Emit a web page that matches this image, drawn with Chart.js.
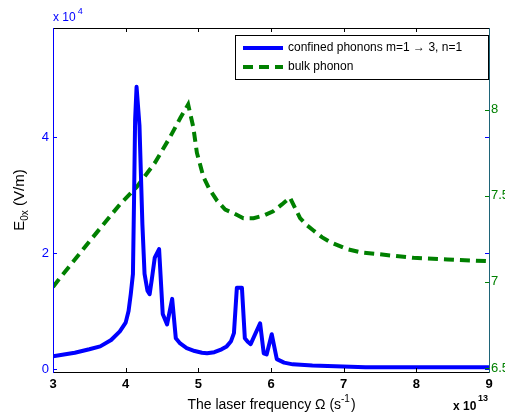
<!DOCTYPE html>
<html>
<head>
<meta charset="utf-8">
<script src="https://cdn.jsdelivr.net/npm/chart.js@4.4.1/dist/chart.umd.min.js"></script>
<style>
  html, body { margin: 0; padding: 0; background: #fff; }
  #wrap { width: 505px; height: 417px; }
</style>
</head>
<body>
<div id="wrap"><canvas id="chart" width="505" height="417"></canvas></div>
<script>
// laser frequency (x 10^13 s^-1) and field amplitude (x 10^4 V/m)
const confinedFreq = [3.0, 3.15, 3.3, 3.5, 3.65, 3.8, 3.92, 4.0, 4.04, 4.07, 4.10, 4.115, 4.13, 4.15, 4.19, 4.23, 4.26, 4.30, 4.33, 4.36, 4.40, 4.46, 4.51, 4.57, 4.64, 4.69, 4.75, 4.84, 4.95, 5.05, 5.12, 5.22, 5.32, 5.39, 5.45, 5.49, 5.53, 5.60, 5.64, 5.68, 5.72, 5.85, 5.90, 5.94, 6.01, 6.08, 6.18, 6.30, 6.57, 7.3, 8.0, 9.0];
const confinedField = [0.22, 0.25, 0.28, 0.34, 0.39, 0.50, 0.65, 0.80, 1.00, 1.29, 1.64, 2.9, 4.3, 4.87, 4.2, 2.5, 1.64, 1.35, 1.29, 1.55, 1.92, 2.07, 0.95, 0.77, 1.21, 0.53, 0.44, 0.36, 0.31, 0.28, 0.27, 0.29, 0.34, 0.39, 0.48, 0.62, 1.40, 1.40, 0.53, 0.47, 0.43, 0.79, 0.27, 0.25, 0.60, 0.17, 0.11, 0.08, 0.06, 0.03, 0.03, 0.03];

const bulkFreq = [3.0, 3.09, 3.55, 3.92, 4.15, 4.4, 4.61, 4.75, 4.86, 4.93, 4.98, 5.07, 5.15, 5.26, 5.37, 5.48, 5.62, 5.76, 5.9, 6.03, 6.15, 6.26, 6.40, 6.49, 6.58, 6.7, 6.82, 7.05, 7.25, 7.5, 7.96, 8.43, 9.0];
const bulkField = [6.97, 7.02, 7.26, 7.45, 7.55, 7.69, 7.84, 7.95, 8.03, 7.90, 7.75, 7.61, 7.54, 7.47, 7.42, 7.40, 7.37, 7.37, 7.385, 7.41, 7.45, 7.49, 7.37, 7.33, 7.30, 7.26, 7.23, 7.19, 7.17, 7.16, 7.14, 7.13, 7.12];

const xTicks = [3, 4, 5, 6, 7, 8, 9];
const leftTicks = [0, 2, 4];
const rightTicks = [6.5, 7, 7.5, 8];

const BLUE = "#0000ff";
const GREEN = "#008000";
const TEAL = "#1e6478";
const FONT = "Arial, 'Liberation Sans', sans-serif";

const toPoints = (xs, ys) => xs.map((x, i) => ({ x, y: ys[i] }));

// axis spines, inward ticks, titles, exponents and the boxed legend
const decorations = {
    id: "decorations",
    afterDraw(chart) {
        const ctx = chart.ctx;
        const a = chart.chartArea;
        const sx = chart.scales.x, yl = chart.scales.y, yr = chart.scales.y2;
        const tick = 4;
        ctx.save();
        ctx.lineWidth = 1;

        // top / bottom spines
        ctx.strokeStyle = "#000";
        ctx.beginPath();
        ctx.moveTo(a.left, a.top + 0.5); ctx.lineTo(a.right, a.top + 0.5);
        ctx.moveTo(a.left, a.bottom + 0.5); ctx.lineTo(a.right, a.bottom + 0.5);
        xTicks.forEach(v => {
            const px = Math.round(sx.getPixelForValue(v)) + 0.5;
            ctx.moveTo(px, a.bottom); ctx.lineTo(px, a.bottom - tick);
            ctx.moveTo(px, a.top); ctx.lineTo(px, a.top + tick);
        });
        ctx.stroke();

        // left spine (blue) and its ticks, mirrored on the right
        ctx.strokeStyle = BLUE;
        ctx.beginPath();
        ctx.moveTo(a.left + 0.5, a.top); ctx.lineTo(a.left + 0.5, a.bottom + 1);
        leftTicks.forEach(v => {
            const py = Math.round(yl.getPixelForValue(v)) + 0.5;
            ctx.moveTo(a.left, py); ctx.lineTo(a.left + tick, py);
            ctx.moveTo(a.right, py); ctx.lineTo(a.right - tick, py);
        });
        ctx.stroke();

        // right spine and green ticks
        ctx.strokeStyle = TEAL;
        ctx.beginPath();
        ctx.moveTo(a.right + 0.5, a.top); ctx.lineTo(a.right + 0.5, a.bottom + 1);
        ctx.stroke();
        ctx.strokeStyle = GREEN;
        ctx.beginPath();
        rightTicks.forEach(v => {
            const py = Math.round(yr.getPixelForValue(v)) + 0.5;
            ctx.moveTo(a.right, py); ctx.lineTo(a.right - tick, py);
        });
        ctx.stroke();

        // exponent labels
        ctx.textBaseline = "middle";
        ctx.textAlign = "left";
        ctx.fillStyle = BLUE;
        ctx.font = "12px " + FONT;
        ctx.fillText("x 10", a.left, 18);
        const w10 = ctx.measureText("x 10").width;
        ctx.font = "9px " + FONT;
        ctx.fillText("4", a.left + w10 + 2, 12);

        ctx.fillStyle = "#000";
        ctx.font = "bold 12px " + FONT;
        ctx.fillText("x 10", 453, 407);
        ctx.font = "bold 9px " + FONT;
        ctx.fillText("13", 478, 399);

        // x title with superscript
        const mainX = "The laser frequency \u03A9 (s";
        ctx.font = "14px " + FONT;
        const w1 = ctx.measureText(mainX).width;
        ctx.font = "10px " + FONT;
        const w2 = ctx.measureText("-1").width;
        ctx.font = "14px " + FONT;
        const w3 = ctx.measureText(")").width;
        const xs = (a.left + a.right) / 2 - (w1 + w2 + w3) / 2;
        ctx.fillText(mainX, xs, 405);
        ctx.font = "10px " + FONT;
        ctx.fillText("-1", xs + w1, 399);
        ctx.font = "14px " + FONT;
        ctx.fillText(")", xs + w1 + w2 + 1, 405);

        // y title E_0x (V/m), rotated
        ctx.translate(20, 200);
        ctx.rotate(-Math.PI / 2);
        ctx.font = "15px " + FONT;
        const e1 = ctx.measureText("E").width;
        const e3 = ctx.measureText(" (V/m)").width;
        ctx.font = "10px " + FONT;
        const e2 = ctx.measureText("0x").width;
        const ys = -(e1 + e2 + e3) / 2;
        ctx.font = "15px " + FONT;
        ctx.fillText("E", ys, 0);
        ctx.font = "10px " + FONT;
        ctx.fillText("0x", ys + e1, 5);
        ctx.font = "15px " + FONT;
        ctx.fillText(" (V/m)", ys + e1 + e2, 0);
        ctx.restore();

        // legend box
        ctx.save();
        const lx = 235, ly = 35, lw = 253, lh = 44;
        ctx.fillStyle = "#fff";
        ctx.fillRect(lx, ly, lw, lh);
        ctx.strokeStyle = "#000";
        ctx.lineWidth = 1;
        ctx.strokeRect(lx + 0.5, ly + 0.5, lw, lh);
        ctx.textBaseline = "middle";
        ctx.font = "12px Arial, 'DejaVu Sans', sans-serif";
        chart.data.datasets.forEach((ds, i) => {
            const yy = ly + 13 + i * 19;
            ctx.strokeStyle = ds.borderColor;
            ctx.lineWidth = ds.borderWidth;
            ctx.setLineDash(ds.borderDash || []);
            ctx.beginPath();
            ctx.moveTo(lx + 8, yy); ctx.lineTo(lx + 48, yy);
            ctx.stroke();
            ctx.setLineDash([]);
            ctx.fillStyle = "#000";
            ctx.fillText(ds.label, lx + 53, yy);
        });
        ctx.restore();
    }
};

new Chart(document.getElementById("chart").getContext("2d"), {
    type: "line",
    data: {
        datasets: [
            {
                label: "confined phonons m=1 \u2192 3, n=1",
                data: toPoints(confinedFreq, confinedField),
                yAxisID: "y",
                borderColor: BLUE,
                borderWidth: 4,
                pointRadius: 0,
                tension: 0,
                borderJoinStyle: "round",
                borderCapStyle: "round",
            },
            {
                label: "bulk phonon",
                data: toPoints(bulkFreq, bulkField),
                yAxisID: "y2",
                borderColor: GREEN,
                borderWidth: 4,
                borderDash: [10, 6],
                pointRadius: 0,
                tension: 0,
            },
        ],
    },
    options: {
        responsive: false,
        animation: false,
        devicePixelRatio: 1,
        layout: { padding: { top: 28, left: 0, right: 0, bottom: 0 } },
        plugins: { legend: { display: false }, tooltip: { enabled: false } },
        scales: {
            x: {
                type: "linear",
                min: 3,
                max: 9,
                afterBuildTicks: s => { s.ticks = xTicks.map(v => ({ value: v })); },
                afterFit: s => { s.height = 45; },
                grid: { display: false, drawTicks: false },
                border: { display: false },
                ticks: { color: "#000", padding: 5, font: { family: FONT, size: 13, weight: "bold" }, callback: v => String(v) },
            },
            y: {
                position: "left",
                min: -0.052,
                max: 5.885,
                afterBuildTicks: s => { s.ticks = leftTicks.map(v => ({ value: v })); },
                afterFit: s => { s.width = 53; },
                grid: { display: false, drawTicks: false },
                border: { display: false },
                ticks: { color: BLUE, padding: 4, font: { family: FONT, size: 13 }, callback: v => String(v) },
            },
            y2: {
                position: "right",
                min: 6.477,
                max: 8.474,
                afterBuildTicks: s => { s.ticks = rightTicks.map(v => ({ value: v })); },
                afterFit: s => { s.width = 16; },
                grid: { display: false, drawTicks: false },
                border: { display: false },
                ticks: { color: GREEN, padding: 2, font: { family: FONT, size: 13 }, callback: v => String(v) },
            },
        },
    },
    plugins: [decorations],
});
</script>
</body>
</html>
